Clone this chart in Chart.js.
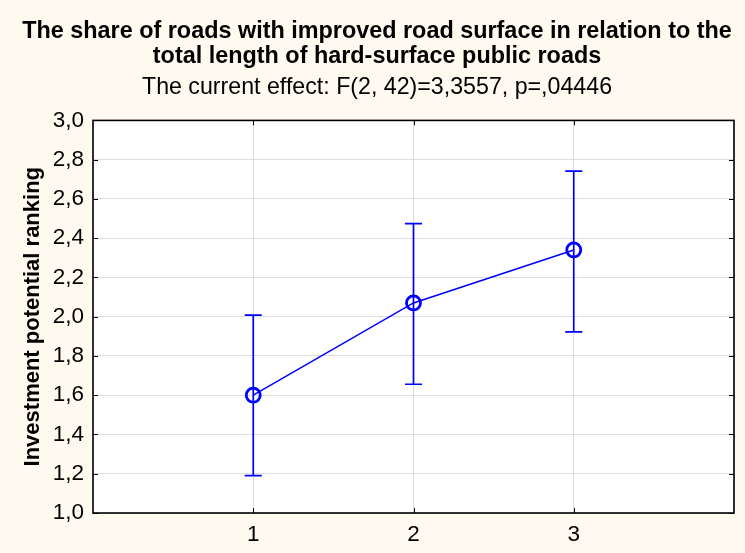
<!DOCTYPE html>
<html>
<head>
<meta charset="utf-8">
<script src="https://cdn.jsdelivr.net/npm/chart.js@4"></script>
<style>
html,body{margin:0;padding:0;background:#FFFAF0;}
#c{display:block;}
</style>
</head>
<body>
<canvas id="c" width="745" height="553"></canvas>
<script>
const categories = [1, 2, 3];
const means = [1.60, 2.07, 2.34];
const lowerCI = [1.19, 1.656, 1.923];
const upperCI = [2.008, 2.474, 2.742];
const yTicks = [1.0, 1.2, 1.4, 1.6, 1.8, 2.0, 2.2, 2.4, 2.6, 2.8, 3.0];
const titleLines = ['The share of roads with improved road surface in relation to the', 'total length of hard-surface public roads'];
const subtitleText = 'The current effect: F(2, 42)=3,3557, p=,04446';
const yAxisTitle = 'Investment potential ranking';

const FONT = '"Liberation Sans", Arial, sans-serif';
const BLUE = '#0000FF';

const bgPlugin = {
  id: 'bg',
  beforeDraw(chart) {
    const {ctx, chartArea: a} = chart;
    ctx.save();
    ctx.fillStyle = '#FFFAF0';
    ctx.fillRect(0, 0, chart.width, chart.height);
    ctx.fillStyle = '#FFFFFF';
    ctx.fillRect(a.left, a.top, a.right - a.left, a.bottom - a.top);
    ctx.restore();
  }
};

const frameAndErrors = {
  id: 'frameAndErrors',
  beforeDatasetsDraw(chart) {
    const {ctx, chartArea: a, scales: {x, y}} = chart;
    ctx.save();
    ctx.strokeStyle = '#000';
    ctx.lineWidth = 1;
    yTicks.forEach(v => {
      const py = Math.round(y.getPixelForValue(v)) + 0.5;
      ctx.beginPath();
      ctx.moveTo(a.left, py); ctx.lineTo(a.left + 5, py);
      ctx.moveTo(a.right, py); ctx.lineTo(a.right - 5, py);
      ctx.stroke();
    });
    categories.forEach(c => {
      const px = Math.round(x.getPixelForValue(c)) + 0.5;
      ctx.beginPath();
      ctx.moveTo(px, a.bottom); ctx.lineTo(px, a.bottom - 5);
      ctx.moveTo(px, a.top); ctx.lineTo(px, a.top + 5);
      ctx.stroke();
    });
    ctx.strokeStyle = BLUE;
    ctx.lineWidth = 1.7;
    categories.forEach((c, i) => {
      const px = x.getPixelForValue(c);
      const pl = y.getPixelForValue(lowerCI[i]);
      const pu = y.getPixelForValue(upperCI[i]);
      ctx.beginPath();
      ctx.moveTo(px, pl); ctx.lineTo(px, pu);
      ctx.moveTo(px - 8.5, pl); ctx.lineTo(px + 8.5, pl);
      ctx.moveTo(px - 8.5, pu); ctx.lineTo(px + 8.5, pu);
      ctx.stroke();
    });
    ctx.restore();
  },
  afterDraw(chart) {
    const {ctx, chartArea: a} = chart;
    ctx.save();
    ctx.strokeStyle = '#000';
    ctx.lineWidth = 1.6;
    ctx.strokeRect(a.left, a.top, a.right - a.left, a.bottom - a.top);
    ctx.restore();
  }
};

new Chart(document.getElementById('c'), {
  type: 'scatter',
  data: {
    datasets: [{
      data: categories.map((c, i) => ({x: c, y: means[i]})),
      showLine: true,
      borderColor: BLUE,
      borderWidth: 1.5,
      pointRadius: 7,
      pointBorderWidth: 2.8,
      pointBorderColor: BLUE,
      pointBackgroundColor: 'rgba(0,0,0,0)',
      pointHoverRadius: 7
    }]
  },
  options: {
    responsive: false,
    animation: false,
    devicePixelRatio: 1,
    layout: {padding: {left: 20, right: 11, top: 0, bottom: 0}},
    plugins: {
      legend: {display: false},
      tooltip: {enabled: false},
      title: {
        display: true,
        text: titleLines,
        color: '#000',
        font: {family: FONT, size: 23.4, weight: 'bold', lineHeight: 1.07},
        padding: {top: 19, bottom: 4.5}
      },
      subtitle: {
        display: true,
        text: subtitleText,
        color: '#000',
        font: {family: FONT, size: 23.2, weight: 'normal', lineHeight: 1.2},
        padding: {top: 0, bottom: 19}
      }
    },
    scales: {
      x: {
        type: 'linear',
        min: 0, max: 4,
        afterFit(s) { s.height = 40; },
        afterBuildTicks(s) { s.ticks = [0, ...categories, 4].map(v => ({value: v})); },
        ticks: {
          color: '#000',
          font: {family: FONT, size: 22.5},
          padding: 8,
          maxRotation: 0,
          callback: v => (categories.includes(v) ? String(v) : '')
        },
        grid: {color: '#dddddd', lineWidth: 1, drawTicks: false},
        border: {display: false}
      },
      y: {
        min: 1, max: 3,
        afterFit(s) { s.width = 73; },
        afterBuildTicks(s) { s.ticks = yTicks.map(v => ({value: v})); },
        ticks: {
          color: '#000',
          font: {family: FONT, size: 22.5},
          padding: 9,
          callback: v => Number(v).toFixed(1).replace('.', ',')
        },
        grid: {color: '#dddddd', lineWidth: 1, drawTicks: false},
        border: {display: false},
        title: {
          display: true,
          text: yAxisTitle,
          color: '#000',
          font: {family: FONT, size: 22, weight: 'bold'},
          padding: {top: 0, bottom: 0}
        }
      }
    }
  },
  plugins: [bgPlugin, frameAndErrors]
});
</script>
</body>
</html>
